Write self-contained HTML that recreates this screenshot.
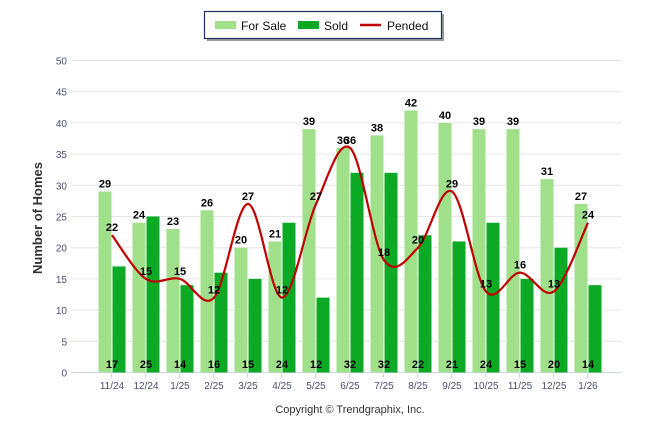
<!DOCTYPE html>
<html><head><meta charset="utf-8"><style>
body{margin:0;background:#fff;}
svg text{font-family:"Liberation Sans",sans-serif;}
</style></head><body>
<svg width="646" height="434" xmlns="http://www.w3.org/2000/svg">
<g>
<rect x="207" y="14" width="237" height="27" fill="#9a9a9a"/>
<rect x="204.5" y="11.5" width="237" height="27" fill="#fff" stroke="#1f2f5f" stroke-width="1.2"/>
<rect x="215" y="21" width="21" height="8" fill="#a0e08a"/>
<text x="241" y="30" font-size="12" fill="#111">For Sale</text>
<rect x="298" y="21" width="21" height="8" fill="#0caa24"/>
<text x="324" y="30" font-size="12" fill="#111">Sold</text>
<line x1="360" y1="25" x2="381" y2="25" stroke="#c00000" stroke-width="2.5"/>
<text x="387" y="30" font-size="12" fill="#111">Pended</text>
</g>
<text transform="translate(42,218) rotate(-90)" text-anchor="middle" font-size="13" font-weight="bold" fill="#333">Number of Homes</text>
<text x="350" y="413" text-anchor="middle" font-size="11" fill="#333">Copyright © Trendgraphix, Inc.</text>
<g id="grid"></g><g id="bars"></g><g id="line"></g><g id="labels"></g>
</svg>
<script>
const categories=["11/24","12/24","1/25","2/25","3/25","4/25","5/25","6/25","7/25","8/25","9/25","10/25","11/25","12/25","1/26"];
const forSale=[29,24,23,26,20,21,39,36,38,42,40,39,39,31,27];
const sold=[17,25,14,16,15,24,12,32,32,22,21,24,15,20,14];
const pended=[22,15,15,12,27,12,27,36,18,20,29,13,16,13,24];
const yTicks=[0,5,10,15,20,25,30,35,40,45,50];
const NS="http://www.w3.org/2000/svg";
const y0=372.5,yScale=6.24;
const y=v=>y0-v*yScale;
const x=i=>112+i*34;
function mk(tag,attrs,parent,txt){const e=document.createElementNS(NS,tag);for(const k in attrs)e.setAttribute(k,attrs[k]);if(txt!==undefined)e.textContent=txt;document.getElementById(parent).appendChild(e);return e;}
yTicks.forEach(t=>{
 const g=mk('line',{x1:71,x2:622,y1:y(t),y2:y(t),stroke:t===0?'#ccd6eb':'#e6e6e6','stroke-width':1},'grid');
 
 
 const l=mk('text',{x:67,y:y(t)+4,'text-anchor':'end','font-size':10,fill:'#4a5070'},'grid',t);
 
 
});
categories.forEach((c,i)=>{
 const tk=mk('line',{x1:x(i)-0.5,x2:x(i)-0.5,y1:y0,y2:y0+5,stroke:'#ccd6eb'},'grid');
 
 
 const l=mk('text',{x:x(i),y:389,'text-anchor':'middle','font-size':10,fill:'#4a5070'},'grid',c);
 
 
 const b1=mk('rect',{x:x(i)-13.5,y:y(forSale[i]),width:13,height:forSale[i]*yScale,fill:'#a0e08a'},'bars');
 
 
 const b2=mk('rect',{x:x(i)+0.5,y:y(sold[i]),width:13,height:sold[i]*yScale,fill:'#0caa24'},'bars');
 
 
 const t1=mk('text',{x:x(i)-7,y:y(forSale[i])-4,'text-anchor':'middle','font-size':11,'font-weight':'bold',fill:'#000'},'labels',forSale[i]);
 
 
 const t2=mk('text',{x:x(i),y:368,'text-anchor':'middle','font-size':11,'font-weight':'bold',fill:'#000'},'labels',sold[i]);
 
 
 const t3=mk('text',{x:x(i),y:y(pended[i])-4,'text-anchor':'middle','font-size':11,'font-weight':'bold',fill:'#000'},'labels',pended[i]);
 
 
});
const pts=pended.map((v,i)=>[x(i),y(v)]);
let d='M'+pts[0][0]+','+pts[0][1];
const sm=1.5;
for(let i=0;i<pts.length-1;i++){
 const p0=pts[i-1]||pts[i],p1=pts[i],p2=pts[i+1],p3=pts[i+2]||p2;
 const c1=[p1[0]+(p2[0]-p0[0])/(2*sm*2),p1[1]+(p2[1]-p0[1])/(2*sm*2)];
 const c2=[p2[0]-(p3[0]-p1[0])/(2*sm*2),p2[1]-(p3[1]-p1[1])/(2*sm*2)];
 d+=` C${c1[0]},${c1[1]} ${c2[0]},${c2[1]} ${p2[0]},${p2[1]}`;
}
const ln=mk('path',{d:d,fill:'none',stroke:'#c00000','stroke-width':2.2},'line');


</script>
</body></html>
